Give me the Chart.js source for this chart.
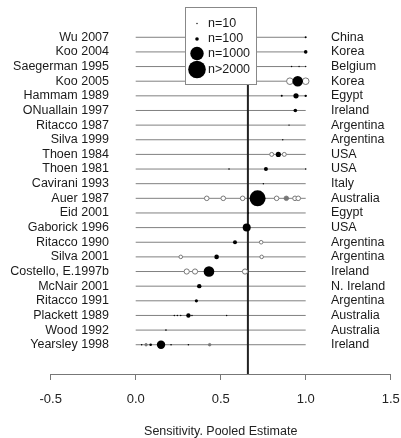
<!DOCTYPE html>
<html>
<head>
<meta charset="utf-8">
<script src="https://cdn.jsdelivr.net/npm/chart.js@4/dist/chart.umd.min.js"></script>
<style>
  html, body { margin: 0; padding: 0; background: #fff; }
  canvas { display: block; }
</style>
</head>
<body>
<canvas id="c" width="401" height="438"></canvas>
<script>
// ---- Data (rows top to bottom) ----
const studies = ["Wu 2007", "Koo 2004", "Saegerman 1995", "Koo 2005", "Hammam 1989",
  "ONuallain 1997", "Ritacco 1987", "Silva 1999", "Thoen 1984", "Thoen 1981",
  "Cavirani 1993", "Auer 1987", "Eid 2001", "Gaborick 1996", "Ritacco 1990",
  "Silva 2001", "Costello, E.1997b", "McNair 2001", "Ritacco 1991", "Plackett 1989",
  "Wood 1992", "Yearsley 1998"];
const countries = ["China", "Korea", "Belgium", "Korea", "Egypt", "Ireland", "Argentina",
  "Argentina", "USA", "USA", "Italy", "Australia", "Egypt", "USA", "Argentina",
  "Argentina", "Ireland", "N. Ireland", "Argentina", "Australia", "Australia", "Ireland"];
const pooledEstimate = 0.66;
const xTicks = [-0.5, 0.0, 0.5, 1.0, 1.5];

// individual estimates: row index, sensitivity, marker radius, kind (f = filled, o = open, g = grey)
const ptRow = [0, 1, 2, 2, 2, 3, 3, 3, 4, 4, 4, 5, 6, 7, 8, 8, 8, 9, 9, 9, 10,
  11, 11, 11, 11, 11, 11, 11, 11, 12, 13, 14, 14, 15, 15, 15, 16, 16, 16, 16,
  17, 18, 19, 19, 19, 19, 19, 19, 20, 21, 21, 21, 21, 21, 21, 21];
const ptValue = [1.0, 1.0, 0.917, 0.961, 1.0, 0.907, 0.953, 1.0, 0.859, 0.943, 1.0, 0.939, 0.902, 0.865,
  0.80, 0.839, 0.874, 0.549, 0.766, 1.0, 0.751,
  0.418, 0.515, 0.629, 0.717, 0.829, 0.886, 0.937, 0.956, 0.662, 0.653, 0.584, 0.738,
  0.265, 0.476, 0.741, 0.30, 0.349, 0.431, 0.643, 0.374, 0.357,
  0.227, 0.245, 0.265, 0.31, 0.331, 0.535, 0.178,
  0.035, 0.061, 0.088, 0.149, 0.208, 0.31, 0.435];
const ptRadius = [1, 1.8, 0.7, 0.7, 0.7, 3.3, 5.2, 3.3, 1, 2.6, 1.2, 1.8, 0.7, 0.7,
  2, 2.6, 2, 0.8, 2, 0.8, 0.7,
  2.3, 2.3, 2.3, 8, 2.3, 2.3, 2.3, 2.3, 0.8, 4, 2, 1.8,
  1.8, 2.3, 1.8, 2.6, 2.6, 5.3, 2.6, 2.2, 1.6,
  0.7, 0.7, 0.7, 2.2, 0.7, 0.7, 0.8,
  0.8, 1.3, 1.3, 4.2, 0.8, 0.8, 1.3];
const ptKind = ["f", "f", "f", "f", "f", "o", "f", "o", "f", "f", "f", "f", "f", "f",
  "o", "f", "o", "f", "f", "f", "f",
  "o", "o", "o", "f", "o", "g", "o", "o", "f", "f", "f", "o",
  "o", "f", "o", "o", "o", "f", "o", "f", "f",
  "f", "f", "f", "f", "f", "f", "f",
  "f", "g", "f", "f", "f", "f", "g"];

// legend
const legendLabels = ["n=10", "n=100", "n=1000", "n>2000"];
const legendRadius = [0.7, 1.8, 6.7, 8.8];

// ---- Build ----
const nRows = studies.length;
const rowY = i => nRows - i;
const FONT = "'Liberation Sans', Arial, sans-serif";

const rangeLines = [];
studies.forEach((s, i) => {
  rangeLines.push({ x: 0, y: rowY(i) }, { x: 1, y: rowY(i) }, { x: 1, y: null });
});

function kindPoints(kind) {
  const d = [], r = [];
  ptValue.forEach((v, k) => {
    if (ptKind[k] === kind) { d.push({ x: v, y: rowY(ptRow[k]) }); r.push(ptRadius[k]); }
  });
  return { d, r };
}
const F = kindPoints("f"), O = kindPoints("o"), G = kindPoints("g");

const labelPlugin = {
  id: "labels",
  afterDatasetsDraw(chart) {
    const ctx = chart.ctx, ys = chart.scales.y;
    ctx.save();
    ctx.font = "12.5px " + FONT;
    ctx.fillStyle = "#1a1a1a";
    ctx.textBaseline = "middle";
    studies.forEach((s, i) => {
      const y = ys.getPixelForValue(rowY(i));
      ctx.textAlign = "right";
      ctx.fillText(s, 109, y);
      ctx.textAlign = "left";
      ctx.fillText(countries[i], 331, y);
    });
    // legend box
    ctx.fillStyle = "#fff";
    ctx.fillRect(185.5, 7.5, 71, 77);
    ctx.strokeStyle = "#888";
    ctx.lineWidth = 1;
    ctx.strokeRect(185.5, 7.5, 71, 77);
    const ly = [23.5, 39, 53.5, 69.5];
    legendLabels.forEach((t, i) => {
      ctx.beginPath();
      ctx.arc(197, ly[i], legendRadius[i], 0, Math.PI * 2);
      ctx.fillStyle = "#000";
      ctx.fill();
      ctx.fillStyle = "#1a1a1a";
      ctx.textAlign = "left";
      ctx.fillText(t, 208, ly[i]);
    });
    ctx.restore();
  }
};

new Chart(document.getElementById("c"), {
  type: "scatter",
  data: {
    datasets: [
      { type: "scatter", data: F.d, pointRadius: F.r, backgroundColor: "#000", borderColor: "#000", borderWidth: 0, order: 0 },
      { type: "scatter", data: G.d, pointRadius: G.r, backgroundColor: "#777", borderColor: "#777", borderWidth: 0.8, order: 1 },
      { type: "scatter", data: O.d, pointRadius: O.r, backgroundColor: "#fff", borderColor: "#777", borderWidth: 1, order: 1 },
      { type: "line", data: rangeLines, showLine: true, spanGaps: false, borderColor: "#808080", borderWidth: 1, pointRadius: 0, order: 3 },
      { type: "line", data: [{ x: pooledEstimate, y: -1 }, { x: pooledEstimate, y: 24 }], showLine: true, borderColor: "#222", borderWidth: 2, pointRadius: 0, order: 2 }
    ]
  },
  options: {
    responsive: false,
    animation: false,
    events: [],
    layout: { padding: { top: 5.6, left: 50.7, right: 10.3, bottom: 0 } },
    plugins: { legend: { display: false }, tooltip: { enabled: false } },
    scales: {
      y: { type: "linear", min: -1, max: 24, display: false },
      x: {
        type: "linear", min: -0.5, max: 1.5, position: "bottom",
        afterBuildTicks: s => { s.ticks = xTicks.map(v => ({ value: v })); },
        ticks: { callback: v => Number(v).toFixed(1), font: { family: FONT, size: 13 }, color: "#222", padding: 12, maxRotation: 0 },
        grid: { display: true, drawOnChartArea: false, drawTicks: true, tickLength: 6, color: "#777", lineWidth: 1 },
        border: { display: true, color: "#777", width: 1 },
        title: { display: true, text: "Sensitivity. Pooled Estimate", font: { family: FONT, size: 12.5 }, color: "#222", padding: { top: 0, bottom: -1 } },
        afterFit: s => { s.height = 64; s.paddingLeft = 0; s.paddingRight = 0; }
      }
    }
  },
  plugins: [labelPlugin]
});
</script>
</body>
</html>
